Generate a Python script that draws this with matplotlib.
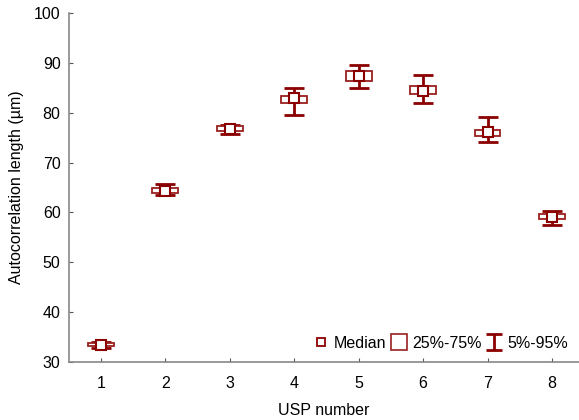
import numpy as np
import matplotlib.pyplot as plt
from matplotlib.path import Path
from matplotlib.lines import Line2D

plt.rcParams['font.family'] = ['Liberation Sans', 'DejaVu Sans']

# valores
usp = [1, 2, 3, 4, 5, 6, 7, 8]
mediana = [33.5, 64.4, 76.8, 83.0, 87.4, 84.4, 76.1, 59.1]
q25 = [33.2, 63.9, 76.3, 82.0, 86.4, 83.7, 75.3, 58.6]
q75 = [33.8, 64.9, 77.4, 83.3, 88.4, 85.4, 76.5, 59.7]
p05 = [32.9, 63.5, 75.7, 79.6, 85.0, 82.0, 74.2, 57.5]
p95 = [34.0, 65.8, 77.6, 85.0, 89.5, 87.6, 79.1, 60.3]

rojo = '#8b0000'
rojo_caja = '#9a2020'
fs = 11.5

fig = plt.figure(figsize=(5.79, 4.2), dpi=100)
ax = fig.add_axes([0.119, 0.138, 0.881, 0.831])

x = np.array(usp)
med = np.array(mediana)
err = [med - np.array(p05), np.array(p95) - med]
ax.errorbar(x, med, yerr=err, fmt='none', ecolor=rojo, elinewidth=2,
            capsize=7, capthick=2, zorder=1)
ax.bar(x, np.array(q75) - np.array(q25), bottom=q25, width=0.4,
       facecolor='white', edgecolor=rojo_caja, linewidth=1.3, zorder=2)
ax.plot(x, med, 's', ms=6.5, mfc='white', mec=rojo, mew=1.5, ls='none', zorder=3)

ax.set_xlim(0.503, 8.42)
ax.set_ylim(30, 100)
ax.set_xticks(usp)
ax.set_yticks(range(30, 101, 10))
ax.tick_params(direction='in', length=3, width=0.8, color='#555555',
               labelsize=fs, pad=6)
ax.tick_params(axis='x', pad=10)
for s in ['top', 'right']:
    ax.spines[s].set_visible(False)
for s in ['left', 'bottom']:
    ax.spines[s].set_color('#888888')
    ax.spines[s].set_linewidth(1.2)

ax.set_xlabel('USP number', fontsize=fs, labelpad=9)
ax.set_ylabel('Autocorrelation length (µm)', fontsize=fs, labelpad=7)

# marcador en forma de I para la leyenda
i_path = Path([(-1, 1), (1, 1), (0, 1), (0, -1), (-1, -1), (1, -1)],
              [Path.MOVETO, Path.LINETO, Path.MOVETO, Path.LINETO,
               Path.MOVETO, Path.LINETO])
h1 = Line2D([], [], ls='none', marker='s', ms=6, mfc='white', mec=rojo, mew=1.3)
h2 = Line2D([], [], ls='none', marker='s', ms=12, mfc='white', mec=rojo_caja, mew=1.2)
h3 = Line2D([], [], ls='none', marker=i_path, ms=11, mfc='none', mec=rojo, mew=2)
ax.legend([h1, h2, h3], ['Median', '25%-75%', '5%-95%'], loc='lower right',
          ncol=3, frameon=False, fontsize=fs, handlelength=1.0,
          handletextpad=0.3, columnspacing=0.3, borderaxespad=0.3,
          bbox_to_anchor=(1.0, 0.0))

fig.savefig('out.png', dpi=100)
